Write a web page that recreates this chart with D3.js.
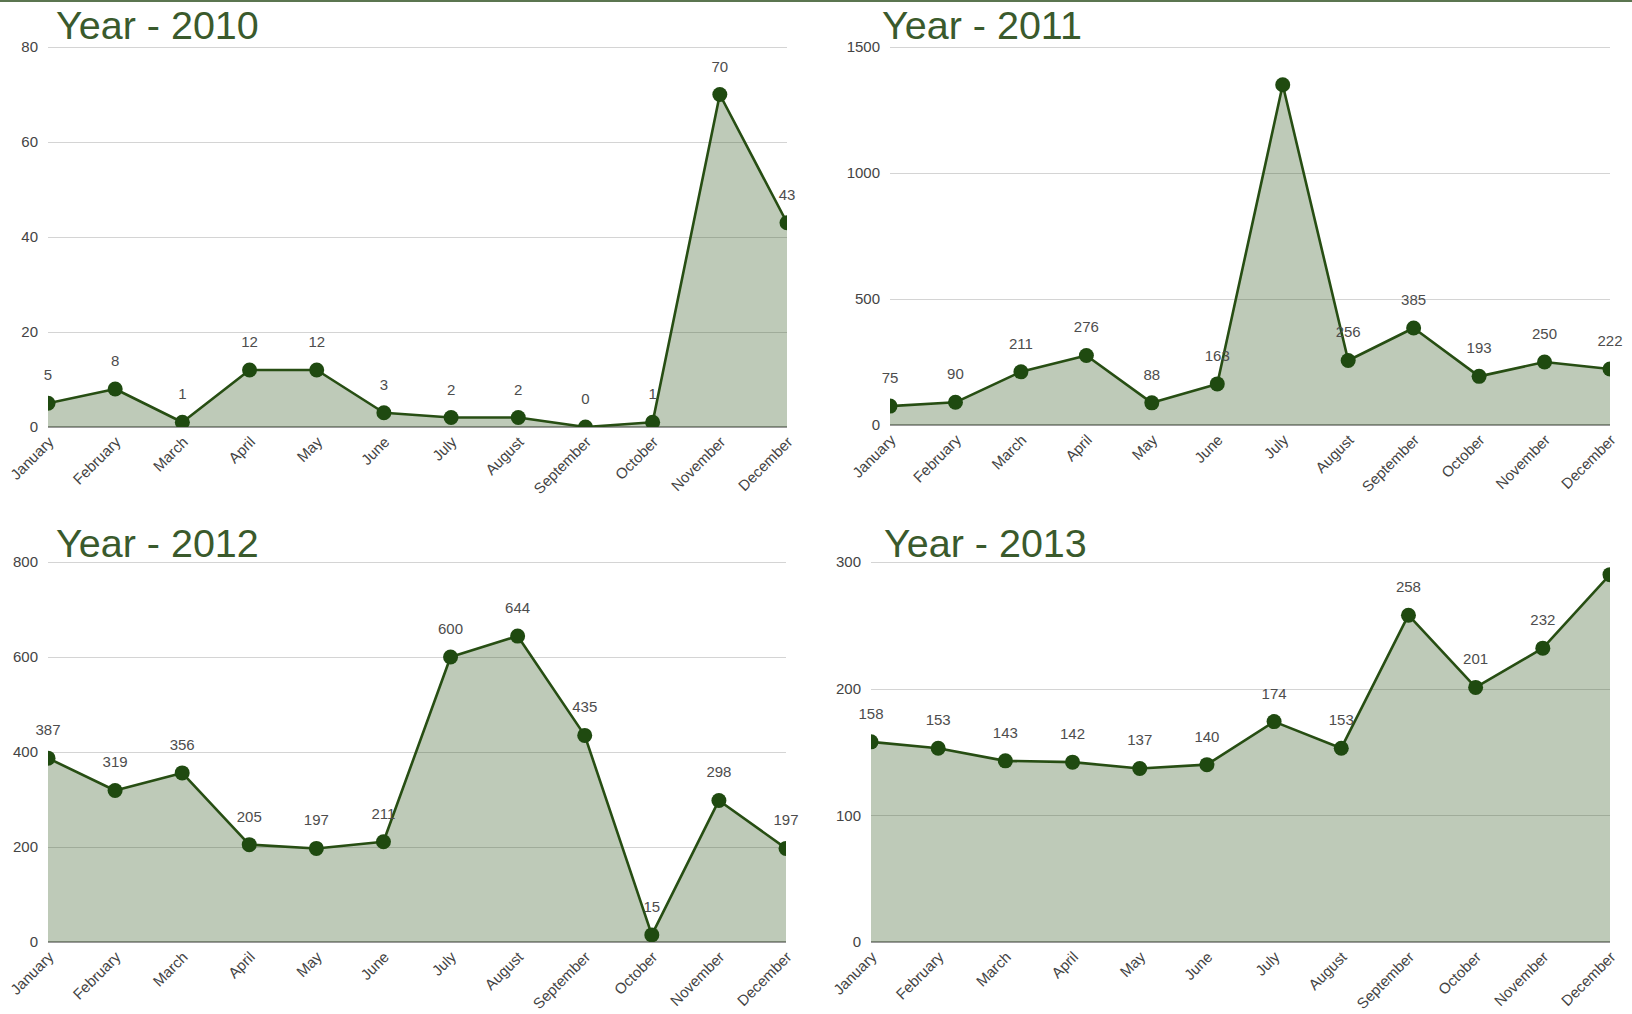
<!DOCTYPE html>
<html><head><meta charset="utf-8">
<script src="https://cdn.jsdelivr.net/npm/d3@7"></script>
<style>body{margin:0;background:#fff}svg{display:block;font-family:Arial,"Liberation Sans",sans-serif}</style>
</head><body><svg id="c" width="1632" height="1014"></svg>
<script>
const months = ["January","February","March","April","May","June","July","August","September","October","November","December"];
const values2010 = [5, 8, 1, 12, 12, 3, 2, 2, 0, 1, 70, 43];
const values2011 = [75, 90, 211, 276, 88, 163, 1350, 256, 385, 193, 250, 222];
const values2012 = [387, 319, 356, 205, 197, 211, 600, 644, 435, 15, 298, 197];
const values2013 = [158, 153, 143, 142, 137, 140, 174, 153, 258, 201, 232, 290];
const ticks2010 = [0, 20, 40, 60, 80];
const ticks2011 = [0, 500, 1000, 1500];
const ticks2012 = [0, 200, 400, 600, 800];
const ticks2013 = [0, 100, 200, 300];
const hiddenLabels2010 = [];
const hiddenLabels2011 = ["July"];
const hiddenLabels2012 = [];
const hiddenLabels2013 = ["December"];
const titles = ["Year - 2010", "Year - 2011", "Year - 2012", "Year - 2013"];

const COLOR = "#274e13";
const panels = [
  {title: titles[0], values: values2010, ticks: ticks2010, hidden: hiddenLabels2010, x0: 48, x1: 787, yTop: 47, y0: 427, tx: 56, ty: 39},
  {title: titles[1], values: values2011, ticks: ticks2011, hidden: hiddenLabels2011, x0: 890, x1: 1610, yTop: 47, y0: 425, tx: 882, ty: 39},
  {title: titles[2], values: values2012, ticks: ticks2012, hidden: hiddenLabels2012, x0: 48, x1: 786, yTop: 562, y0: 942, tx: 56, ty: 557},
  {title: titles[3], values: values2013, ticks: ticks2013, hidden: hiddenLabels2013, x0: 871, x1: 1610, yTop: 562, y0: 942, tx: 884, ty: 557}
];

const svg = d3.select("#c");
svg.append("rect").attr("x", 0).attr("y", 0).attr("width", 1632).attr("height", 2).attr("fill", "#5b7550");

panels.forEach((p, i) => {
  const data = months.map((m, k) => ({m, v: p.values[k]}));
  const x = d3.scalePoint().domain(months).range([p.x0, p.x1]);
  const y = d3.scaleLinear().domain([0, d3.max(p.ticks)]).range([p.y0, p.yTop]);
  const g = svg.append("g");
  const clipId = "clip" + i;
  svg.append("clipPath").attr("id", clipId).append("rect")
    .attr("x", p.x0).attr("y", p.yTop - 20).attr("width", p.x1 - p.x0).attr("height", p.y0 - p.yTop + 20);

  // gridlines
  g.append("g").selectAll("line").data(p.ticks.filter(t => t !== 0)).join("line")
    .attr("x1", p.x0).attr("x2", p.x1)
    .attr("y1", d => Math.round(y(d)) + 0.5).attr("y2", d => Math.round(y(d)) + 0.5)
    .attr("stroke", "#d4d4d4").attr("stroke-width", 1);
  // baseline
  g.append("line").attr("x1", p.x0).attr("x2", p.x1).attr("y1", y(0)).attr("y2", y(0))
    .attr("stroke", "#9a9a9a").attr("stroke-width", 2);

  // y axis labels
  const ya = g.append("g").attr("transform", `translate(${p.x0 - 10},0)`)
    .call(d3.axisLeft(y).tickValues(p.ticks).tickFormat(d3.format("d")).tickSize(0).tickPadding(0));
  ya.select(".domain").remove();
  ya.selectAll("text").attr("font-size", 15).attr("fill", "#444").attr("font-family", "Arial, 'Liberation Sans', sans-serif");

  // x axis labels
  const xa = g.append("g").attr("transform", `translate(0,${p.y0})`)
    .call(d3.axisBottom(x).tickSize(0));
  xa.select(".domain").remove();
  xa.selectAll("text")
    .attr("font-size", 15).attr("fill", "#444").attr("font-family", "Arial, 'Liberation Sans', sans-serif")
    .attr("text-anchor", "end").attr("y", 0).attr("dy", 0)
    .attr("transform", "translate(6,16) rotate(-45)");

  // area
  const plot = g.append("g").attr("clip-path", `url(#${clipId})`);
  plot.append("path").datum(data)
    .attr("d", d3.area().x(d => x(d.m)).y0(y(0)).y1(d => y(d.v)))
    .attr("fill", COLOR).attr("fill-opacity", 0.3);

  // data labels (under the line)
  g.append("g").selectAll("text").data(data.filter(d => !p.hidden.includes(d.m))).join("text")
    .attr("x", d => x(d.m)).attr("y", d => y(d.v) - 23)
    .attr("text-anchor", "middle").attr("font-size", 15).attr("fill", "#4d4d4d")
    .text(d => d.v);

  // line
  plot.append("path").datum(data)
    .attr("d", d3.line().x(d => x(d.m)).y(d => y(d.v)))
    .attr("fill", "none").attr("stroke", COLOR).attr("stroke-width", 2.6).attr("stroke-linejoin", "round");
  // points
  plot.append("g").selectAll("circle").data(data).join("circle")
    .attr("cx", d => x(d.m)).attr("cy", d => y(d.v)).attr("r", 7.5)
    .attr("fill", "#1f4a10");

  // title
  g.append("text").attr("x", p.tx).attr("y", p.ty).attr("font-size", 39.5)
    .attr("fill", "#3a5a2c").text(p.title);
});
</script>
</body></html>
